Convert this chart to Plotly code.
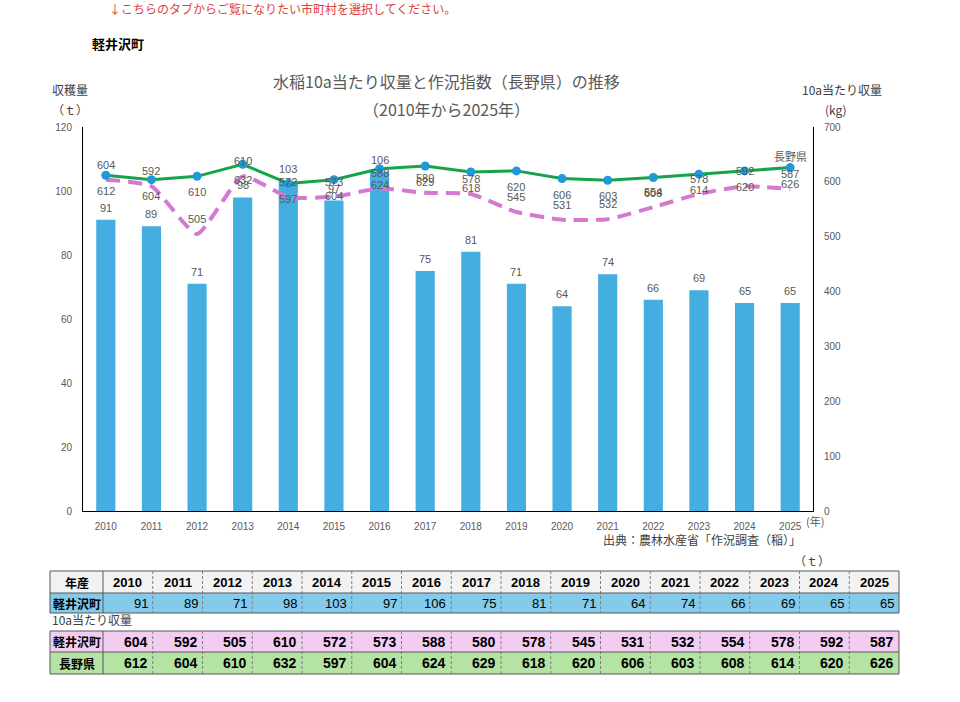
import plotly.graph_objects as go

# ---- data ----
years = ["2010", "2011", "2012", "2013", "2014", "2015", "2016", "2017",
         "2018", "2019", "2020", "2021", "2022", "2023", "2024", "2025"]
harvest_t = [91, 89, 71, 98, 103, 97, 106, 75, 81, 71, 64, 74, 66, 69, 65, 65]
yield_town = [604, 592, 505, 610, 572, 573, 588, 580, 578, 545, 531, 532, 554, 578, 592, 587]
yield_pref = [612, 604, 610, 632, 597, 604, 624, 629, 618, 620, 606, 603, 608, 614, 620, 626]
left_ticks = [0, 20, 40, 60, 80, 100, 120]
right_ticks = [0, 100, 200, 300, 400, 500, 600, 700]
row_labels = ["年産", "軽井沢町", "軽井沢町", "長野県"]

W, H = 960, 702
def px(x):
    return x / W
def py(y):
    return 1 - y / H

GREY = "#595959"
DARK = "#404040"
FONT = "Noto Sans CJK JP"
NUMFONT = "Liberation Sans, Noto Sans CJK JP"
TNUM = "Liberation Sans Narrow, Liberation Sans, Noto Sans CJK JP"

BAR = "#45AEE0"
GREEN = "#16A34A"
MARK = "#1E9AD6"
PINK = "#D578D2"

fig = go.Figure()
idx = list(range(len(years)))

fig.add_trace(go.Bar(x=idx, y=harvest_t, marker=dict(color=BAR, line=dict(width=0)),
                     width=0.42, yaxis="y", name="収穫量", hoverinfo="skip"))
fig.add_trace(go.Scatter(x=idx, y=yield_town, mode="lines", yaxis="y2",
                         line=dict(color=PINK, width=4, dash="14px,8px", shape="spline", smoothing=0.5),
                         name="軽井沢町"))
fig.add_trace(go.Scatter(x=idx, y=yield_pref, mode="lines+markers", yaxis="y2",
                         line=dict(color=GREEN, width=3),
                         marker=dict(color=MARK, size=9),
                         name="長野県"))

ann = []
shapes = []
lbl_font = dict(family=NUMFONT, size=11, color=GREY)
for i, v in zip(idx, harvest_t):
    ann.append(dict(x=i, y=v, xref="x", yref="y", text=str(v), showarrow=False,
                    yshift=12, font=lbl_font))
for i, v in zip(idx, yield_town):
    ann.append(dict(x=i, y=v, xref="x", yref="y2", text=str(v), showarrow=False,
                    yshift=15, font=lbl_font))
for i, v in zip(idx, yield_pref):
    ann.append(dict(x=i, y=v, xref="x", yref="y2", text=str(v), showarrow=False,
                    yshift=-16, font=lbl_font))
ann.append(dict(x=idx[-1], y=yield_pref[-1], xref="x", yref="y2", text="長野県",
                showarrow=False, yshift=12, font=dict(family=FONT, size=11, color=GREY)))

def txt(x, y, s, size=12, color=DARK, xanchor="center", bold=False, family=FONT):
    if bold:
        s = "<b>" + s + "</b>"
    ann.append(dict(x=px(x), y=py(y), xref="paper", yref="paper", text=s, showarrow=False,
                    xanchor=xanchor, yanchor="middle", font=dict(family=family, size=size, color=color)))

txt(107, 9, "↓こちらのタブからご覧になりたい市町村を選択してください。", size=12, color="#E0403C", xanchor="left")
txt(90, 44, "軽井沢町", size=13, color="#000000", xanchor="left", bold=True)
txt(446, 81, "水稲10a当たり収量と作況指数（長野県）の推移", size=16, color=GREY)
txt(446, 109, "（2010年から2025年）", size=16, color=GREY)
txt(70, 90, "収穫量", size=12, color=DARK)
txt(70, 110, "（ｔ）", size=12, color=DARK)
txt(842, 90, "10a当たり収量", size=12, color=DARK)
txt(836, 110, "(kg)", size=12, color=DARK)
txt(815, 521, "(年)", size=11, color=GREY)
txt(803, 539, "出典：農林水産省「作況調査（稲）」", size=12, color=DARK, xanchor="right")
txt(812, 560, "（ｔ）", size=12, color=DARK)
txt(50, 619, "10a当たり収量", size=12, color=DARK, xanchor="left")

# ---- table (drawn with shapes + annotations) ----
TX0, TX1 = 50, 899
C0 = 103
cw = (TX1 - C0) / len(years)
col_edges = [TX0, C0] + [C0 + cw * (k + 1) for k in range(len(years))]
rows = [
    (571, 593, "#F2F2F2", row_labels[0], years, True, "center"),
    (593, 613, "#83CAEB", row_labels[1], [str(v) for v in harvest_t], False, "right"),
    (631, 652, "#F3CDF1", row_labels[2], [str(v) for v in yield_town], True, "right"),
    (652, 674, "#B5E3A3", row_labels[3], [str(v) for v in yield_pref], True, "right"),
]
BORDER = "#595959"
for top, bot, fill, label, vals, bold, al in rows:
    shapes.append(dict(type="rect", xref="paper", yref="paper", x0=px(TX0), x1=px(TX1),
                       y0=py(bot), y1=py(top), fillcolor=fill, line=dict(width=0), layer="below"))
    ymid = (top + bot) / 2
    ann.append(dict(x=px((TX0 + C0) / 2), y=py(ymid), xref="paper", yref="paper",
                    text="<b>%s</b>" % label, showarrow=False, xanchor="center", yanchor="middle",
                    font=dict(family=FONT, size=12, color="#000000")))
    for k, s in enumerate(vals):
        l, r = col_edges[k + 1], col_edges[k + 2]
        t = "<b>%s</b>" % s if bold else s
        if al == "center":
            ann.append(dict(x=px((l + r) / 2), y=py(ymid), xref="paper", yref="paper", text=t,
                            showarrow=False, xanchor="center", yanchor="middle",
                            font=dict(family=TNUM, size=13, color="#000000")))
        else:
            ann.append(dict(x=px(r - 3), y=py(ymid), xref="paper", yref="paper", text=t,
                            showarrow=False, xanchor="right", yanchor="middle",
                            font=dict(family=TNUM, size=14 if bold else 13, color="#000000")))

def hline(y, x0=TX0, x1=TX1, color=BORDER, width=1):
    shapes.append(dict(type="line", xref="paper", yref="paper", x0=px(x0), x1=px(x1),
                       y0=py(y), y1=py(y), line=dict(color=color, width=width)))

def vline(x, y0, y1, color=BORDER, width=1, dash="solid"):
    shapes.append(dict(type="line", xref="paper", yref="paper", x0=px(x), x1=px(x),
                       y0=py(y0), y1=py(y1), line=dict(color=color, width=width, dash=dash)))

for top, bot in [(571, 613), (631, 674)]:
    hline(top)
    hline(bot)
    vline(TX0, top, bot)
    vline(TX1, top, bot)
    vline(C0, top, bot)
    for k in range(len(years) - 1):
        vline(col_edges[k + 2], top, bot, color="#808080", dash="3px,2px")
hline(593)
hline(652)

fig.update_layout(
    width=W, height=H, autosize=False,
    margin=dict(l=0, r=0, t=0, b=0, pad=0, autoexpand=False),
    paper_bgcolor="white", plot_bgcolor="white",
    showlegend=False,
    annotations=ann,
    shapes=shapes,
    xaxis=dict(domain=[px(83), px(813)], range=[-0.5, 15.5], automargin=False,
               tickvals=idx, ticktext=years,
               showline=True, linecolor="#000000", linewidth=1, showgrid=False,
               ticks="", ticklabelstandoff=6, tickfont=dict(family=NUMFONT, size=10, color=GREY),
               anchor="y", zeroline=False),
    yaxis=dict(domain=[py(511), py(127)], range=[0, 120], tickvals=left_ticks, automargin=False,
               showline=True, linecolor="#000000", linewidth=1, showgrid=False,
               ticks="", ticklabelstandoff=8, zeroline=False,
               tickfont=dict(family=NUMFONT, size=10, color=GREY)),
    yaxis2=dict(domain=[py(511), py(127)], range=[0, 700], tickvals=right_ticks,
                overlaying="y", side="right", anchor="x", automargin=False,
                showline=True, linecolor="#000000", linewidth=1, showgrid=False,
                ticks="", ticklabelstandoff=8, zeroline=False,
                tickfont=dict(family=NUMFONT, size=10, color=GREY)),
)

fig.write_html("out.html")
